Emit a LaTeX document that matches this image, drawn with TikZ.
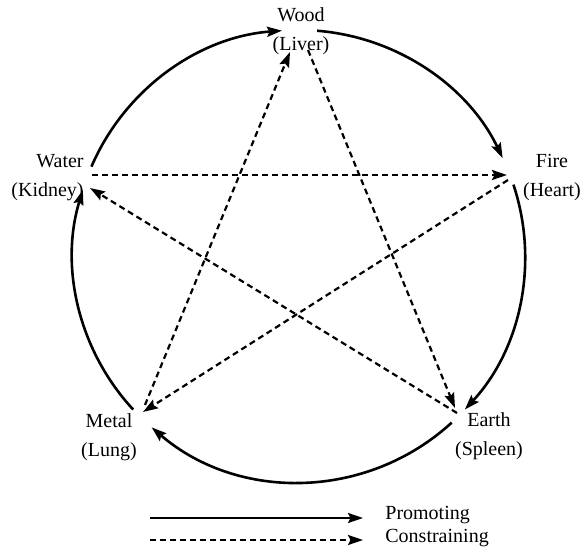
\documentclass[tikz,border=0pt]{standalone}
\usepackage{fontspec}
\setmainfont{Liberation Serif}
\usetikzlibrary{arrows.meta}
\begin{document}
\begin{tikzpicture}[x=0.5pt,y=0.5pt,
  lbl/.style={font=\fontsize{10}{14.5}\selectfont, inner sep=0pt, align=center},
  promline/.style={line width=1.3pt, -{Stealth[length=7.5pt,width=5pt,inset=1.2pt]}},
  consline/.style={line width=1.1pt, dash pattern=on 3pt off 2pt, -{Stealth[length=7.5pt,width=5pt,inset=1.2pt]}}]
\useasboundingbox (0,0) rectangle (582,547);
\coordinate (c) at (299,291);
% element labels
\node[lbl] (wood) at (301,516) {Wood\\(Liver)};
\node[lbl] (fire) at (552,369) {Fire\\(Heart)};
\node[lbl, align=right, anchor=east] (water) at (84,369) {Water\\(Kidney)};
\node[lbl] (metal) at (109,110) {Metal\\(Lung)};
\node[lbl] (earth) at (489,111) {Earth\\(Spleen)};
% promoting cycle (arcs of the circle)
\draw[promline] ([shift={(156.7:226)}]c) arc[start angle=156.7, end angle=94.3, radius=226];
\draw[promline] ([shift={(85.4:226)}]c) arc[start angle=85.4, end angle=25.7, radius=226];
\draw[promline] ([shift={(18.4:226)}]c) arc[start angle=18.4, end angle=-42.8, radius=226];
\draw[promline] ([shift={(-47.5:226)}]c) arc[start angle=-47.5, end angle=-130.7, radius=226];
\draw[promline] ([shift={(-137.2:226)}]c) arc[start angle=-137.2, end angle=-197, radius=226];
% end points of the constraining lines
\coordinate (w1) at (308,497);
\coordinate (w2) at (290,495);
\coordinate (f1) at (507,372);
\coordinate (f2) at (508,367);
\coordinate (a1) at (92,372);
\coordinate (a2) at (90,359);
\coordinate (m1) at (143,135);
\coordinate (m2) at (145,142);
\coordinate (e1) at (455,139);
\coordinate (e2) at (457,134);
% constraining cycle (star)
\draw[consline] (w1) -- (e1);
\draw[consline] (e2) -- (a2);
\draw[consline] (a1) -- (f1);
\draw[consline] (f2) -- (m1);
\draw[consline] (m2) -- (w2);
% legend
\node[font=\fontsize{10}{12}\selectfont, inner sep=0pt, anchor=base west] (promtxt) at (385,28) {Promoting};
\node[font=\fontsize{10}{12}\selectfont, inner sep=0pt, anchor=base west] (constxt) at (385,5) {Constraining};
\coordinate (p1) at (150,29);
\coordinate (p2) at (363,29);
\coordinate (q1) at (150,7);
\coordinate (q2) at (363,7);
\draw[promline, line width=1pt] (p1) -- (p2);
\draw[consline, line width=1pt] (q1) -- (q2);
\end{tikzpicture}
\end{document}
